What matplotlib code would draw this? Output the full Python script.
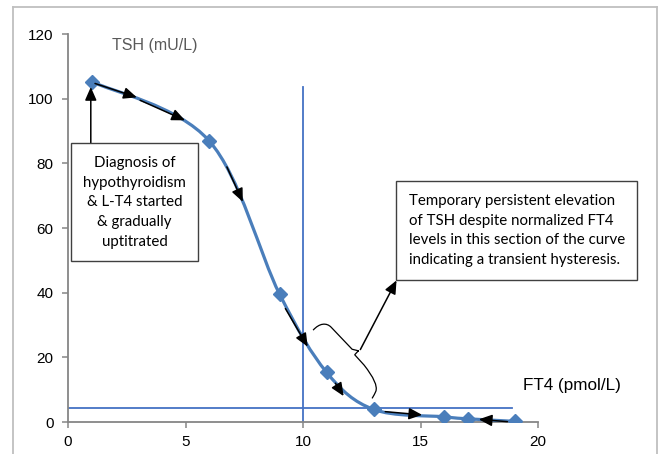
import matplotlib
matplotlib.use("Agg")
import matplotlib.pyplot as plt
from matplotlib.path import Path
from matplotlib.patches import PathPatch, Rectangle
import numpy as np

# ---- data ----
ft4 = [1, 6, 9, 11, 13, 16, 17, 19]
tsh = [105.3, 87, 39.6, 15.4, 3.9, 1.6, 1.0, 0.2]
x_ticks = [0, 5, 10, 15, 20]
y_ticks = [0, 20, 40, 60, 80, 100, 120]
ref_ft4 = 10          # vertical reference line
ref_ft4_top = 103.6
ref_tsh = 4.3         # horizontal reference line
ref_tsh_end = 18.9

# direction arrows along the curve (start, end)
arrow_starts = [(1.15, 104.7), (3.07, 99.5), (6.76, 78.9), (9.25, 35.1), (11.38, 12.0), (13.5, 3.2), (18.7, 0.1)]
arrow_ends = [(2.93, 100.4), (4.98, 93.3), (7.44, 68.1), (10.2, 23.3), (11.73, 8.0), (15.07, 2.2), (17.48, 0.83)]

box1_lines = ["Diagnosis of", "hypothyroidism", "& L-T4 started", "& gradually", "uptitrated"]
box2_lines = ["Temporary persistent elevation", "of TSH despite normalized FT4",
              "levels in this section of the curve", "indicating a transient hysteresis."]

W, H = 664, 454
fig = plt.figure(figsize=(W / 100, H / 100), dpi=100)
ax = fig.add_axes([68 / W, (H - 422) / H, (538 - 68) / W, (422 - 34) / H])
ax.set_xlim(0, 20)
ax.set_ylim(0, 120)

blue = "#4A7EBB"
line_blue = "#4472C4"

# smooth curve (Catmull-Rom -> cubic Bezier, like Excel smoothed line)
pts = np.column_stack([ft4, tsh])
P = np.vstack([pts[0], pts, pts[-1]])
verts = [tuple(pts[0])]
codes = [Path.MOVETO]
for i in range(1, len(P) - 2):
    p0, p1, p2, p3 = P[i - 1], P[i], P[i + 1], P[i + 2]
    c1 = p1 + (p2 - p0) / 6.0
    c2 = p2 - (p3 - p1) / 6.0
    verts += [tuple(c1), tuple(c2), tuple(p2)]
    codes += [Path.CURVE4] * 3
ax.add_patch(PathPatch(Path(verts, codes), fill=False, edgecolor=blue, lw=2.3, zorder=3,
                       capstyle="round"))
ax.plot(ft4, tsh, linestyle="none", marker="D", ms=7, color=blue, zorder=4)

# reference lines
ax.plot([ref_ft4, ref_ft4], [0, ref_ft4_top], color=line_blue, lw=1.3, zorder=2)
ax.plot([0, ref_tsh_end], [ref_tsh, ref_tsh], color=line_blue, lw=1.3, zorder=2)

# direction arrows
aprops = dict(arrowstyle="-|>,head_length=0.8,head_width=0.35", color="black",
              lw=1.1, shrinkA=0, shrinkB=0)
for s, e in zip(arrow_starts, arrow_ends):
    ax.annotate("", xy=e, xytext=s, arrowprops=aprops, zorder=5)

# axes styling
for sp in ["top", "right"]:
    ax.spines[sp].set_visible(False)
for sp in ["left", "bottom"]:
    ax.spines[sp].set_color("#868686")
    ax.spines[sp].set_linewidth(1.3)
ax.set_xticks(x_ticks)
ax.set_yticks(y_ticks)
ax.tick_params(axis="both", direction="out", length=4.5, width=1.1, color="#868686",
               labelsize=11, labelcolor="black")
ax.tick_params(axis="y", pad=6)
ax.tick_params(axis="x", pad=5)
for lab in ax.get_xticklabels() + ax.get_yticklabels():
    lab.set_fontfamily("Liberation Sans")

# axis titles
ax.text((155 - 68) / 23.5, (422 - 45) / 3.235, "TSH (mU/L)", ha="center", va="center",
        fontsize=11.5, color="#595959", family="Liberation Sans")
ax.text((572 - 68) / 23.5, (422 - 385) / 3.235, "FT4 (pmol/L)", ha="center", va="center",
        fontsize=12.3, color="black", family="Liberation Sans", clip_on=False)

# box 1
ax.add_patch(Rectangle((0.13, 49.7), 5.4, 36.5, fill=False, edgecolor="#404040", lw=1.0,
                       zorder=6))
ax.text(2.83, 67.9, "\n".join(box1_lines), ha="center", va="center", fontsize=10.8,
        family="Lato", linespacing=1.52, zorder=7)
ax.annotate("", xy=(0.97, 103.6), xytext=(0.97, 86.2), arrowprops=aprops, zorder=5)

# box 2
ax.add_patch(Rectangle((13.95, 44.0), 10.26, 30.5, fill=False, edgecolor="#404040", lw=1.0,
                       zorder=6, clip_on=False))
ax.text(14.49, 59.2, "\n".join(box2_lines), ha="left", va="center", fontsize=10.8,
        family="Lato", linespacing=1.52, zorder=7, clip_on=False)

# curly brace and its arrow
brace_v = [(10.43, 28.4), (10.7, 30.6), (11.0, 30.8), (11.2, 29.3),
           (12.09, 22.5), (12.37, 22.0), (12.37, 22.0),
           (12.37, 22.0), (12.37, 22.2), (12.2, 20.8),
           (12.6, 17.6), (13.22, 11.9), (13.1, 9.5),
           (13.05, 8.6), (12.94, 7.3)]
brace_c = [Path.MOVETO, Path.CURVE4, Path.CURVE4, Path.CURVE4,
           Path.LINETO, Path.CURVE3, Path.CURVE3,
           Path.LINETO, Path.CURVE3, Path.CURVE3,
           Path.LINETO, Path.CURVE3, Path.CURVE3,
           Path.CURVE3, Path.CURVE3]
ax.add_patch(PathPatch(Path(brace_v, brace_c), fill=False, edgecolor="black", lw=0.9, zorder=5))
ax.annotate("", xy=(13.98, 43.8), xytext=(12.44, 22.4), arrowprops=aprops, zorder=5,
            annotation_clip=False)

# outer frame
frame_c = "#BFBFBF"
fig.add_artist(plt.Line2D([12.7 / W, 12.7 / W], [0, 1 - 7.3 / H], color=frame_c, lw=1.3,
                          transform=fig.transFigure))
fig.add_artist(plt.Line2D([12.7 / W, 657 / W], [1 - 7.3 / H, 1 - 7.3 / H], color=frame_c,
                          lw=1.3, transform=fig.transFigure))
fig.add_artist(plt.Line2D([657 / W, 657 / W], [0, 1 - 7.3 / H], color=frame_c, lw=1.3,
                          transform=fig.transFigure))

fig.savefig("out.png", dpi=100)
